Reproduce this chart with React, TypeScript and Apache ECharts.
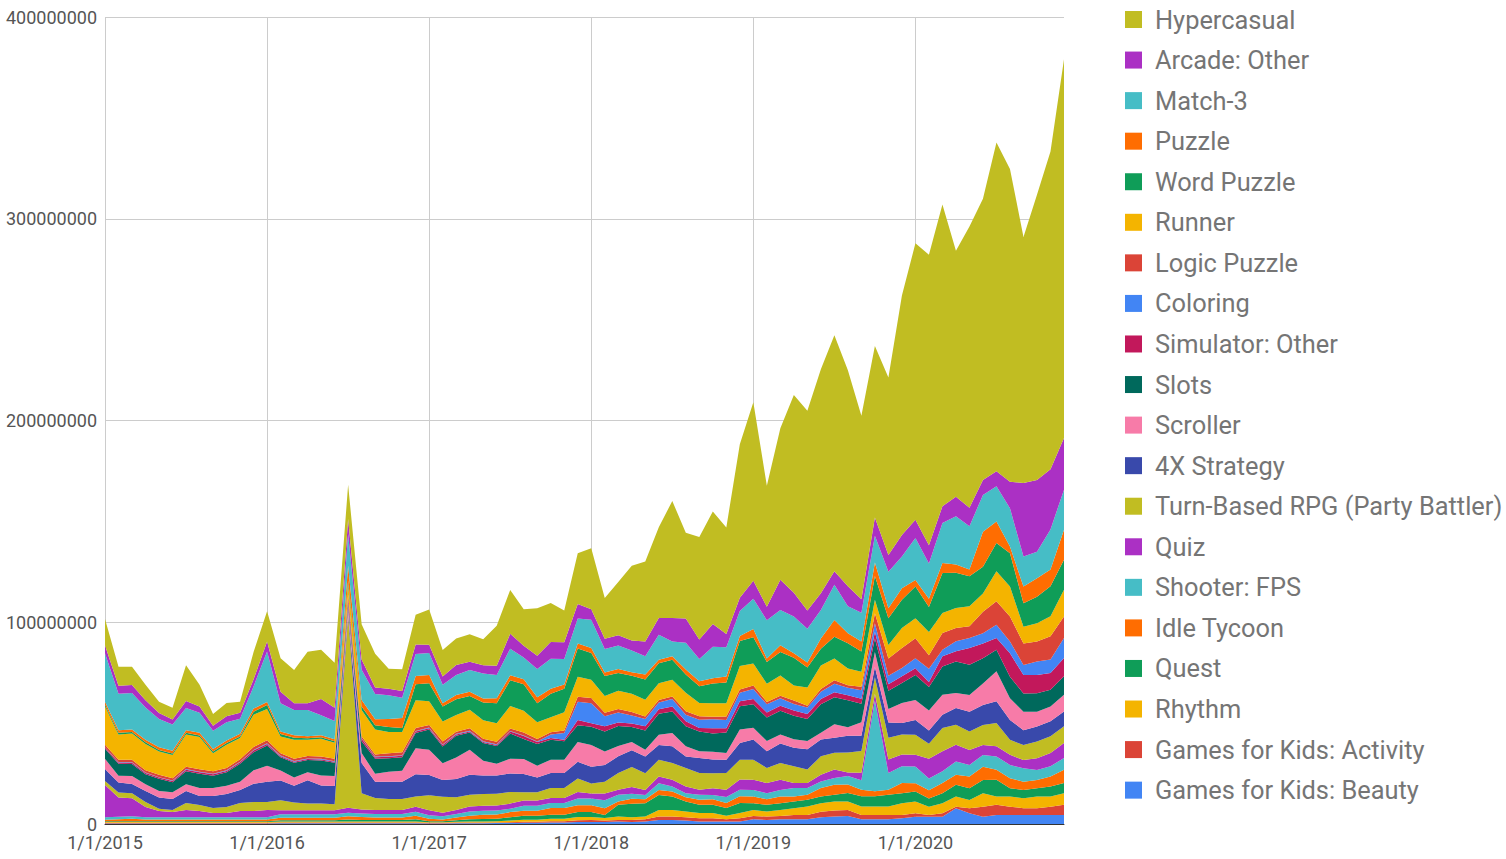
import React, { useEffect, useRef } from "react";
import * as echarts from "echarts";

// Monthly categories 1/1/2015 .. 12/1/2020
const YEARS = [2015, 2016, 2017, 2018, 2019, 2020];
const MONTHS = [1, 2, 3, 4, 5, 6, 7, 8, 9, 10, 11, 12];
const CATEGORIES: string[] = [];
YEARS.forEach((y) => MONTHS.forEach((m) => CATEGORIES.push(`${m}/1/${y}`)));

// values in millions of downloads
const hypercasual = [
  13, 9.5, 9, 7.7, 5.6, 5.8, 17.7, 10.8, 5.8, 6.6, 5.4, 13.6,
  14.9, 16.5, 16.5, 25.6, 24.5, 22.3, 17, 17.5, 16.7, 9.9, 10.8, 14.7,
  17.5, 13.2, 13.2, 13.6, 12.9, 19.8, 21.7, 18.1, 23.5, 19.3, 15.7, 25.2,
  30.2, 20.2, 26.5, 37, 39.6, 45, 58, 42.5, 50.8, 55.8, 52.8, 76,
  88.5, 60, 75, 98, 99, 111, 117, 107, 91, 85, 88, 118.7,
  137, 144, 149.6, 122, 139.5, 139.4, 163, 155, 122, 141.4, 157.5, 187.8,
];
const arcadeOther = [
  4, 4, 4, 3.5, 3, 2.5, 3.5, 3, 2.5, 3, 3, 3.5,
  5, 5.8, 3.3, 3.3, 8, 6.6, 7.5, 5, 3.3, 3.3, 3.3, 4.7,
  4, 4.1, 5, 4.1, 4.1, 4.6, 7.4, 5.8, 6.6, 8.3, 8.3, 7.1,
  5.3, 5, 5, 5, 7.4, 8.3, 11.6, 12, 9.6, 11.2, 6.6, 6.6,
  9, 6.7, 15, 11.7, 9, 8.3, 6.7, 10, 6.7, 9, 8.3, 10.7,
  9.1, 9.1, 8.3, 9.6, 9.1, 7.4, 7.4, 13.2, 36.4, 35.5, 29.8, 25.6,
];
const match3 = [
  24, 18, 18, 16, 14, 13, 11, 10, 9, 9, 7.5, 11,
  25, 13.9, 12.5, 13, 9.9, 9, 15.7, 15, 12.5, 11.7, 10, 11,
  11, 9.1, 9.9, 10.7, 12.4, 11.6, 13.2, 10.7, 14, 14.9, 12.7, 12.4,
  14, 11.7, 11.7, 10.8, 9, 12.4, 7.4, 13.2, 11, 15.7, 14.5, 12.4,
  15, 19, 17.5, 18.3, 16.7, 14.2, 17.5, 13.3, 14.2, 13.3, 18, 15.7,
  20.7, 17.4, 19.8, 24, 21.5, 18.2, 17.4, 19, 14.9, 13.2, 19.8, 19.8,
];
const puzzle = [
  1.5, 1.3, 1.3, 1.3, 1.3, 1.3, 1.3, 1.3, 1.3, 1.3, 1.3, 1.5,
  1.5, 1.3, 1.2, 1, 1, 1, 7.4, 3.3, 3, 4, 5, 4,
  4, 1.7, 2.1, 2.1, 2, 2.5, 2.5, 2.5, 3, 2.5, 2.1, 2.5,
  2.5, 1.7, 2, 1.7, 2.5, 1.7, 1.7, 2.5, 2.5, 2.5, 3, 2.5,
  4, 1.7, 3.3, 2.2, 2.5, 5, 8.3, 5, 5, 6.7, 5, 5.8,
  3.3, 4.1, 5, 4.1, 3.3, 17.4, 10.7, 3.3, 8.3, 9.1, 8.3, 14.9,
];
const wordPuzzle = [
  0.8, 0.8, 0.8, 0.8, 0.8, 0.8, 0.8, 0.8, 0.8, 0.8, 0.8, 1.5,
  2, 1.2, 1, 0.8, 0.7, 0.7, 2, 1.7, 2, 2.5, 2, 8,
  9, 7.4, 7.8, 6.9, 8.8, 9.9, 12.7, 13.2, 9.4, 11.6, 11.6, 14,
  13.2, 10, 8.8, 9, 10, 9.9, 9.9, 9.1, 8.3, 9.9, 10.2, 12.4,
  13, 10.8, 11.7, 13.7, 10, 8.3, 10.8, 12.5, 10, 11.7, 13.3, 14,
  15.7, 12.4, 19.8, 17.4, 14.9, 13.2, 14, 16.5, 11.6, 13.2, 14.9, 14.9,
];
const runner = [
  19, 12.5, 13, 13, 11.5, 11.5, 16, 16, 9, 11.5, 10.5, 16,
  15.5, 8.3, 9.4, 8, 8.8, 8, 5, 13, 12.5, 10.5, 10, 13.7,
  11.7, 9.9, 8.3, 9.1, 9.1, 9.1, 11.2, 10.7, 8.3, 7.4, 9.1, 9.9,
  9.1, 8.3, 9, 9, 8.3, 8.3, 8.3, 9.1, 6.6, 6.6, 6.6, 11.6,
  11, 9, 10, 7.5, 9, 11.7, 10.8, 8.3, 7.5, 6.7, 6.7, 9.9,
  9.9, 11.6, 9.9, 9.9, 9.9, 9.1, 14.9, 14.9, 8.3, 9.1, 9.9, 13.2,
];
const logicPuzzle = [
  1.2, 1.2, 1.2, 1.2, 1.2, 1.2, 1.2, 1.2, 1.2, 1.2, 1.2, 1.5,
  1.5, 1.2, 1.2, 1.2, 1.2, 1.2, 3, 1, 1, 1.5, 1.5, 1.5,
  1.3, 1.5, 1, 1.3, 1.3, 1.3, 1.2, 1.5, 1.2, 1.2, 1.2, 2.5,
  2.5, 1.7, 1.7, 1.7, 1.3, 1.3, 1.3, 1.7, 1.7, 1.3, 1.7, 1.7,
  1.7, 1.2, 1.3, 1.7, 0.8, 1.3, 1.7, 1.3, 1.7, 5, 8.5, 9.9,
  9.9, 6.6, 8.3, 6.6, 5.8, 10.7, 11.6, 12.4, 10.7, 9.9, 11.6, 10.7,
];
const coloring = [
  0.2, 0.2, 0.2, 0.2, 0.2, 0.2, 0.3, 0.3, 0.3, 0.3, 0.3, 0.3,
  0.3, 0.3, 0.3, 0.3, 0.3, 0.3, 0.5, 0.3, 0.3, 0.3, 0.3, 0.3,
  0.3, 0.3, 0.3, 0.3, 0.3, 0.3, 0.3, 0.3, 0.3, 1.7, 3.3, 9.1,
  10, 5, 5, 4, 3.6, 3.3, 3.6, 3.3, 4.1, 4.5, 4.1, 4.1,
  5, 4, 3.7, 3.3, 3.3, 3.7, 4.2, 3.7, 4.2, 4.2, 4.2, 4.1,
  5, 6.6, 3.3, 5, 5, 5, 6.6, 5.8, 5, 6.6, 6.6, 9.9,
];
const simulatorOther = [
  0.6, 0.6, 0.6, 0.6, 0.6, 0.6, 0.7, 0.7, 0.7, 0.7, 0.7, 0.8,
  0.8, 0.5, 0.5, 0.5, 0.5, 0.5, 1, 1.2, 0.7, 0.7, 0.7, 0.7,
  0.7, 0.7, 0.7, 0.5, 0.5, 0.5, 1, 1.5, 1, 0.8, 0.8, 2.5,
  1.7, 2.5, 1.7, 1.7, 2, 2.3, 2.5, 2.5, 1.7, 2.5, 2.1, 2.5,
  2.5, 2.5, 2.5, 2.5, 2.5, 2.5, 2.5, 2.5, 2.5, 3.3, 3.3, 3.3,
  3.3, 2.5, 5, 5, 8.3, 7.4, 5.8, 11.6, 9.1, 9.1, 8.3, 9.1,
];
const slots = [
  5, 6, 6, 5, 6, 5, 6.5, 7, 6, 6.7, 9, 9,
  10, 6.6, 7.4, 6, 7.4, 6.5, 1.5, 5.8, 7.5, 6.7, 6.7, 7.5,
  10, 8.3, 10.7, 8.6, 8.8, 8.8, 12.4, 9.9, 10.7, 9.9, 9.1, 8.3,
  9.1, 10, 10, 7.5, 9.6, 10.4, 10.7, 9.9, 9.9, 9.1, 10.2, 11.6,
  11.7, 11.7, 11.7, 11.7, 10.8, 14.2, 13.3, 13.3, 9.2, 6.7, 9, 9.9,
  12.4, 11.6, 14, 15.7, 14.9, 12.4, 10.7, 10.7, 9.1, 9.1, 8.3, 9.1,
];
const scroller = [
  5, 3.3, 4, 3.3, 3.3, 3.3, 3.3, 4, 4, 4, 4, 6.7,
  8, 5, 4.1, 4, 5, 5, 3, 5, 4, 5, 5.5, 13,
  12.5, 8.3, 10.7, 12.4, 7.4, 5.8, 7.4, 7.4, 5.8, 6.6, 6.6, 9.9,
  10.7, 6.7, 5, 4, 3.3, 5, 6.6, 5, 3.3, 3.8, 3.3, 6.6,
  5.8, 5, 4.5, 4.2, 4.2, 3.3, 6.7, 4.2, 6.7, 7.5, 6.7, 9.9,
  9.9, 9.9, 9.9, 7.4, 8.3, 10.7, 14.9, 10.7, 9.1, 7.4, 7.4, 8.3,
];
const strategy4X = [
  6, 5, 4.5, 5.5, 5.5, 5.5, 6, 4.5, 6, 6.5, 6.5, 9,
  10, 9.7, 8.3, 11.6, 9, 9, 1.5, 15, 8, 8.5, 8.5, 11,
  10, 8.3, 9.1, 9.9, 9.1, 9.1, 9.1, 9.1, 7.4, 7.4, 7.4, 8.3,
  8.3, 8.3, 8.3, 8.3, 8.3, 7.4, 8.3, 5.8, 7.4, 6.9, 6.6, 8.3,
  10, 8.3, 9.7, 9.2, 10, 8.3, 7.5, 8.3, 7.5, 5, 7.5, 5.8,
  7.4, 6.6, 6.6, 8.3, 9.9, 9.9, 10.7, 9.9, 7.4, 7.4, 7.4, 7.4,
];
const turnBasedRPG = [
  2, 2.5, 2.5, 2.5, 1.2, 1, 3.5, 3, 2.5, 3, 4, 4.5,
  4, 5, 3.8, 3.3, 3.3, 3, 95, 8, 6, 5.5, 5.5, 5,
  7.5, 7.9, 6.3, 5.8, 5.8, 5.8, 5.8, 4.1, 4.1, 5, 5, 6.6,
  5, 5.8, 8.3, 10, 8.3, 8.3, 8.3, 9.1, 8.3, 7.4, 8.3, 9.9,
  10, 7.5, 8.3, 8.3, 6.7, 9.2, 8.3, 10, 10.8, 8.3, 10.8, 9.9,
  9.9, 7.4, 11.6, 9.9, 9.1, 9.9, 11.6, 7.4, 7.4, 8.3, 8.3, 8.3,
];
const quiz = [
  16, 9.5, 9, 5, 3, 2.5, 3.5, 3, 2, 2, 3, 3,
  3.5, 2, 2, 2, 2, 2, 2.5, 2, 2, 2, 2, 2.5,
  2.5, 1.7, 2, 2.5, 2.5, 2.5, 2.5, 2.5, 2.5, 2.5, 2.5, 3.3,
  2.5, 3.3, 2.5, 3.3, 2.5, 3.3, 3.3, 3.3, 2.5, 3.3, 3.6, 5,
  5, 5, 5, 2.5, 2.5, 3.3, 4.2, 1.7, 3.7, 3.3, 6.7, 5.8,
  5.8, 9.9, 9.9, 8.3, 7.4, 5, 5, 5, 4.1, 5.8, 6.6, 7.4,
];
const shooterFPS = [
  1.2, 1.2, 1.2, 1.2, 1.2, 1.2, 1.2, 1.2, 1.2, 1.2, 1.2, 1.2,
  1.2, 1.7, 1.7, 1.7, 1.7, 1.7, 1.7, 1.7, 1.7, 1.7, 1.7, 2,
  1.7, 1.7, 1.7, 2.1, 2, 2, 1.7, 2.5, 2.5, 2.5, 2.5, 3.3,
  3.3, 4, 3.3, 2.5, 2.1, 3.3, 2.5, 2, 2.5, 2.1, 3, 3.3,
  3.3, 3, 3.3, 4.2, 3.3, 3.3, 3.3, 4.2, 4.7, 45, 8.3, 8.3,
  8.3, 5.8, 5.8, 6.6, 5.8, 5.8, 6.6, 6.6, 6.6, 5, 5, 5.8,
];
const idleTycoon = [
  0.7, 1, 1.2, 0.8, 0.8, 0.8, 0.8, 0.8, 0.8, 0.8, 0.8, 0.8,
  0.8, 1.2, 1.2, 1.2, 1.2, 1.2, 1.7, 1.5, 1.2, 1.2, 1.2, 1.8,
  1.2, 0.8, 1.3, 1.7, 2.1, 2.1, 2.5, 2.5, 2.5, 3.3, 3.3, 3.3,
  3.3, 3.3, 1.7, 2.5, 2, 2.5, 2.5, 2.1, 2.5, 2.8, 2.5, 3.3,
  3.3, 2.8, 3.3, 2.5, 2.5, 4.2, 5, 4.2, 3.3, 2.5, 2.5, 5,
  4.1, 4.1, 5, 5, 5.8, 6.6, 5, 5, 4.1, 4.1, 5, 6.6,
];
const quest = [
  0.4, 0.4, 0.4, 0.4, 0.4, 0.4, 0.4, 0.4, 0.4, 0.4, 0.4, 0.4,
  0.4, 0.7, 0.7, 0.7, 0.7, 0.7, 1, 0.8, 0.8, 0.8, 0.8, 1,
  0.5, 0.5, 0.8, 1.2, 1.2, 1.2, 1.7, 2, 2, 2, 2, 2.5,
  2.5, 1.5, 5.8, 6.7, 6.6, 7.4, 6.6, 5, 4.1, 4.1, 3.8, 5,
  3.3, 3.3, 3.3, 3.3, 3.3, 3.3, 3.3, 4.2, 5, 5, 5.8, 5,
  5, 4.1, 5, 5.8, 5.8, 6.6, 8.3, 4.1, 4.1, 4.1, 5, 5,
];
const rhythm = [
  0.4, 0.4, 0.4, 0.4, 0.4, 0.4, 0.4, 0.4, 0.4, 0.4, 0.4, 0.4,
  0.4, 0.5, 0.5, 0.5, 0.5, 0.5, 0.5, 0.5, 0.5, 0.5, 0.5, 0.6,
  0.3, 0.3, 0.4, 0.5, 0.6, 0.6, 0.8, 1, 1, 1.2, 1.2, 1.7,
  1.5, 1.3, 1.7, 1.3, 1.3, 3.3, 3.3, 2.8, 2.5, 2.5, 1.7, 2.5,
  3, 2.5, 3, 3.3, 4.2, 4.2, 4.5, 4.2, 4.2, 4.2, 4.2, 5.8,
  5.8, 4.1, 5, 5, 4.1, 6.6, 4.1, 5, 5, 5.8, 5, 5.8,
];
const kidsActivity = [
  0.3, 0.3, 0.3, 0.3, 0.3, 0.3, 0.3, 0.3, 0.3, 0.3, 0.3, 0.3,
  0.3, 0.3, 0.3, 0.3, 0.3, 0.3, 0.3, 0.3, 0.3, 0.3, 0.3, 0.3,
  0.3, 0.3, 0.3, 0.3, 0.3, 0.3, 0.4, 0.5, 0.5, 0.6, 0.6, 0.8,
  1, 0.7, 0.8, 1, 1.2, 1.7, 1.7, 1.7, 1.7, 1.7, 1.2, 1.7,
  1.7, 1.7, 1.7, 2.2, 2.2, 2.8, 3, 3, 2.2, 2.2, 2.2, 1.7,
  1.7, 0.8, 1.7, 0.8, 2.5, 5, 5, 4.1, 3.3, 3.3, 4.1, 5,
];
const kidsBeauty = [
  0.3, 0.3, 0.3, 0.3, 0.3, 0.3, 0.3, 0.3, 0.3, 0.3, 0.3, 0.3,
  0.3, 0.4, 0.4, 0.4, 0.4, 0.4, 0.4, 0.4, 0.4, 0.4, 0.4, 0.4,
  0.3, 0.3, 0.4, 0.4, 0.4, 0.5, 0.5, 0.6, 0.6, 0.8, 0.8, 1,
  1, 1, 1.2, 1, 1.2, 2, 2, 1.7, 1.2, 1.2, 1.2, 1.2,
  2.3, 2, 2.3, 2.3, 2.3, 3.3, 3.7, 4, 2.3, 2.3, 2.3, 2.8,
  3.6, 3.6, 3.6, 7.8, 5.3, 3.6, 4.5, 4.5, 4.5, 4.5, 4.5, 4.5,
];

// y-axis ticks, millions
const Y_MIN = 0;
const Y_MAX = 400;
const Y_STEP = 100;

// stacking order: first = bottom
const SERIES = [
  { name: "Games for Kids: Beauty", data: kidsBeauty, color: "#4285f4" },
  { name: "Games for Kids: Activity", data: kidsActivity, color: "#db4437" },
  { name: "Rhythm", data: rhythm, color: "#f4b400" },
  { name: "Quest", data: quest, color: "#0f9d58" },
  { name: "Idle Tycoon", data: idleTycoon, color: "#ff6d01" },
  { name: "Shooter: FPS", data: shooterFPS, color: "#46bdc6" },
  { name: "Quiz", data: quiz, color: "#ab30c4" },
  { name: "Turn-Based RPG (Party Battler)", data: turnBasedRPG, color: "#c1bd22" },
  { name: "4X Strategy", data: strategy4X, color: "#3949ab" },
  { name: "Scroller", data: scroller, color: "#f77ba8" },
  { name: "Slots", data: slots, color: "#00695c" },
  { name: "Simulator: Other", data: simulatorOther, color: "#c2185b" },
  { name: "Coloring", data: coloring, color: "#4285f4" },
  { name: "Logic Puzzle", data: logicPuzzle, color: "#db4437" },
  { name: "Runner", data: runner, color: "#f4b400" },
  { name: "Word Puzzle", data: wordPuzzle, color: "#0f9d58" },
  { name: "Puzzle", data: puzzle, color: "#ff6d01" },
  { name: "Match-3", data: match3, color: "#46bdc6" },
  { name: "Arcade: Other", data: arcadeOther, color: "#ab30c4" },
  { name: "Hypercasual", data: hypercasual, color: "#c1bd22" },
];
const LEGEND_ORDER = SERIES.map((s) => s.name).reverse();

export default function App() {
  const ref = useRef<HTMLDivElement>(null);
  useEffect(() => {
    if (!ref.current) return;
    const chart = echarts.init(ref.current, undefined, { renderer: "svg" });
    chart.setOption({
      animation: false,
      textStyle: { fontFamily: "Roboto" },
      grid: { left: 105, top: 17, width: 959, height: 807 },
      legend: {
        orient: "vertical",
        left: 1125,
        top: 7,
        padding: 0,
        itemWidth: 17,
        itemHeight: 17,
        itemGap: 15.56,
        icon: "rect",
        selectedMode: false,
        data: LEGEND_ORDER,
        textStyle: { fontSize: 25.4, lineHeight: 24, color: "#757575", fontFamily: "Roboto", padding: [0, 0, 0, 8] },
      },
      xAxis: {
        type: "category",
        data: CATEGORIES,
        boundaryGap: false,
        axisLine: { lineStyle: { color: "#333", width: 1 } },
        axisTick: { show: false },
        axisLabel: {
          interval: (i: number) => i % 12 === 0,
          fontSize: 18,
          color: "#555",
          margin: 9,
          fontFamily: "Roboto",
        },
        splitLine: {
          show: true,
          interval: (i: number) => i % 12 === 0,
          lineStyle: { color: "#cccccc", width: 1 },
        },
      },
      yAxis: {
        type: "value",
        min: Y_MIN,
        max: Y_MAX,
        interval: Y_STEP,
        axisLine: { show: false },
        axisTick: { show: false },
        axisLabel: {
          formatter: (v: number) => String(Math.round(v * 1000000)),
          fontSize: 18,
          color: "#555",
          margin: 8,
          fontFamily: "Roboto",
        },
        splitLine: { lineStyle: { color: "#cccccc", width: 1 } },
      },
      series: SERIES.map((s) => ({
        name: s.name,
        type: "line",
        stack: "total",
        data: s.data,
        symbol: "none",
        showSymbol: false,
        lineStyle: { width: 0, color: s.color },
        itemStyle: { color: s.color },
        areaStyle: { color: s.color, opacity: 1 },
        emphasis: { disabled: true },
      })),
    });
    return () => chart.dispose();
  }, []);
  return (
    <div
      ref={ref}
      style={{ position: "fixed", left: 0, top: 0, width: 1506, height: 859, background: "#fff" }}
    />
  );
}
